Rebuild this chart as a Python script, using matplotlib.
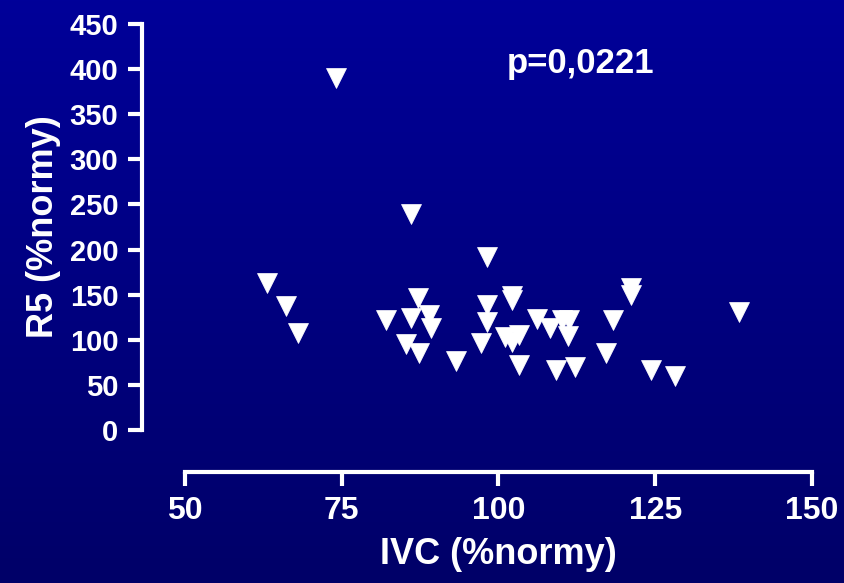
import matplotlib
matplotlib.use("Agg")
import matplotlib.pyplot as plt
import numpy as np

# IVC (%normy) vs R5 (%normy)
ivc = [74.1, 86.0, 98.2, 63.1, 66.1, 68.1, 82.1, 87.2, 86.1, 88.9, 89.2,
       85.2, 87.3, 93.2, 98.2, 98.2, 97.2, 102.2, 102.2, 106.2, 108.2,
       110.2, 111.2, 111.1, 101.1, 103.2, 102.2, 103.2, 109.2, 112.2,
       118.2, 117.2, 121.2, 121.2, 124.3, 128.2, 138.3]
r5 = [390, 239, 192, 163, 137, 107, 122, 146, 124, 128, 113,
      95, 85, 76, 139, 120, 96, 149, 144, 123, 113,
      122, 122, 104, 103, 105, 97, 72, 66, 70,
      122, 85, 157, 150, 66, 60, 131]

x_ticks = [50, 75, 100, 125, 150]
y_ticks = [0, 50, 100, 150, 200, 250, 300, 350, 400, 450]
p_text = "p=0,0221"

plt.rcParams['font.family'] = ['Liberation Sans', 'DejaVu Sans']
plt.rcParams['font.weight'] = 'bold'

W, H = 845, 583
fig = plt.figure(figsize=(W / 100, H / 100), dpi=100)

# background gradient
bg = fig.add_axes([0, 0, 1, 1], zorder=-10)
grad = np.linspace(0, 1, 256).reshape(-1, 1)
top = np.array([0, 0, 153]) / 255
bot = np.array([0, 0, 104]) / 255
img = top[None, None, :] * (1 - grad[:, :, None]) + bot[None, None, :] * grad[:, :, None]
bg.imshow(img, aspect='auto', extent=[0, 1, 0, 1])
bg.axis('off')

# data area: x 185..812 px, y 24..430 px (from top)
x0, x1 = 185, 812
ytop, ybot = 24, 430
ax = fig.add_axes([x0 / W, (H - ybot) / H, (x1 - x0) / W, (ybot - ytop) / H])
ax.patch.set_alpha(0)

ax.plot(ivc, r5, linestyle='none', marker='v', markersize=14.5,
        color='white', markeredgecolor='white', markeredgewidth=0.5, clip_on=False)

ax.set_xlim(50, 150)
ax.set_ylim(0, 450)
ax.set_xticks(x_ticks)
ax.set_yticks(y_ticks)

for s in ['top', 'right']:
    ax.spines[s].set_visible(False)
ax.spines['left'].set_position(('outward', 43 * 0.72))
ax.spines['bottom'].set_position(('outward', 42 * 0.72))
for s in ['left', 'bottom']:
    ax.spines[s].set_color('white')
    ax.spines[s].set_linewidth(3)
    ax.spines[s].set_capstyle('projecting')

ax.tick_params(axis='both', colors='white', length=10, width=3, direction='out')
ax.tick_params(axis='y', labelsize=21, pad=7)
ax.tick_params(axis='x', labelsize=23, pad=7)
for lab in ax.get_xticklabels() + ax.get_yticklabels():
    lab.set_fontweight('bold')

ax.set_xlabel("IVC (%normy)", color='white', fontsize=26, fontweight='bold', labelpad=8)
ax.set_ylabel("R5 (%normy)", color='white', fontsize=26, fontweight='bold', labelpad=6)

fig.text(581 / W, 1 - 63 / H, p_text, color='white', fontsize=25,
         fontweight='bold', ha='center', va='center')

fig.savefig("out.png", dpi=100)
